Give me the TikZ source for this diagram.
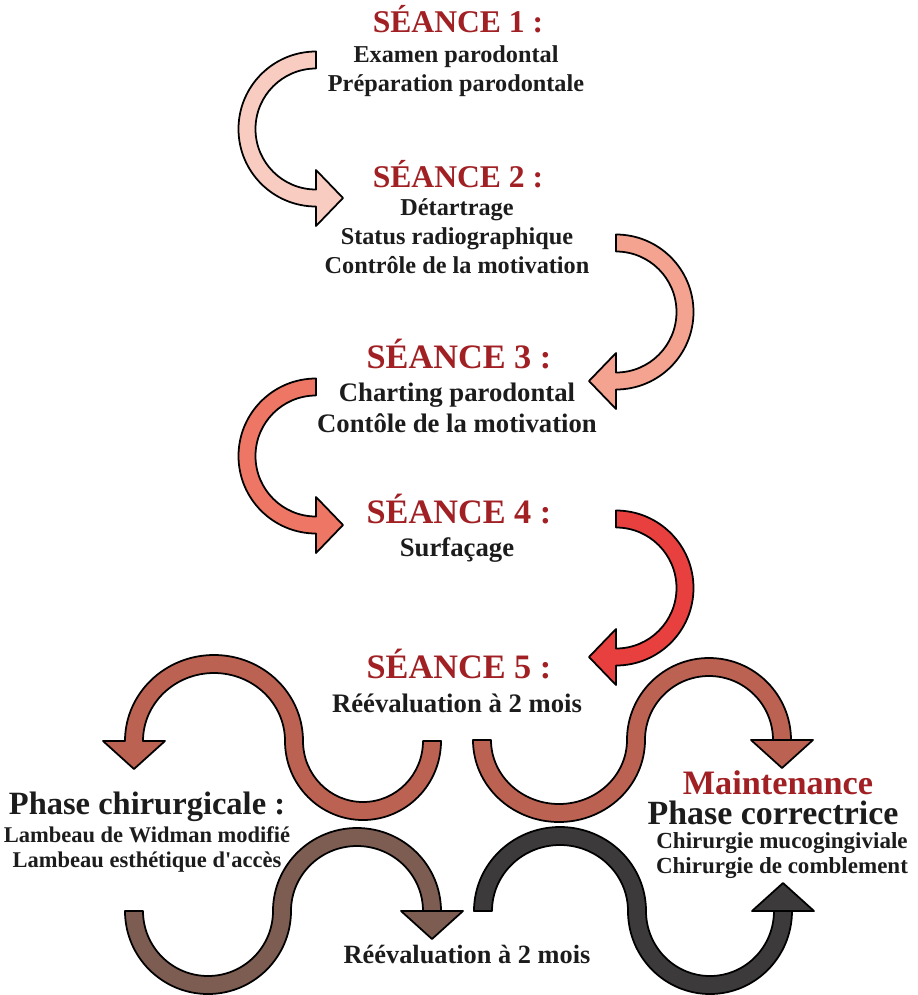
\documentclass[tikz,border=0pt]{standalone}
\usepackage{fontspec}
\setmainfont{Liberation Serif}
\usetikzlibrary{positioning}
\definecolor{seancered}{HTML}{A02024}
\definecolor{inkblack}{HTML}{1C1C1C}
\definecolor{arrowone}{HTML}{F9CCC1}
\definecolor{arrowtwo}{HTML}{F3A38F}
\definecolor{arrowthree}{HTML}{EE7664}
\definecolor{arrowfour}{HTML}{E8403E}
\definecolor{sbrown}{HTML}{BC6252}
\definecolor{sgreybrown}{HTML}{7D5C52}
\definecolor{sdark}{HTML}{3C3A3A}

\begin{document}
\begin{tikzpicture}[x=0.02cm, y=-0.02cm,
    title/.style={font=\bfseries\fontsize{18}{21}\selectfont, text=seancered, anchor=base, inner sep=0pt},
    bigtitle/.style={title, font=\bfseries\fontsize{19.5}{22}\selectfont},
    body/.style={font=\bfseries\fontsize{13.8}{16.4}\selectfont, text=inkblack, align=center, anchor=base, inner sep=0pt},
    bigbody/.style={body, font=\bfseries\fontsize{15.2}{17.6}\selectfont},
    smallbody/.style={body, font=\bfseries\fontsize{12.8}{14.2}\selectfont},
    bandarrow/.style={draw=black, line width=1pt, line join=round}]
    \useasboundingbox (0,0) rectangle (918,995);

    % seances (base = last line)
    \node [title] (t1) at (458,32) {SÉANCE 1 :};
    \node [body] (b1) at (456,91) {Examen parodontal\\Préparation parodontale};
    \node [title] (t2) at (458,187) {SÉANCE 2 :};
    \node [body] (b2) at (457,273) {Détartrage\\Status radiographique\\Contrôle de la motivation};
    \node [bigtitle] (t3) at (459,368) {SÉANCE 3 :};
    \node [bigbody] (b3) at (457,432) {Charting parodontal\\Contôle de la motivation};
    \node [bigtitle] (t4) at (459,523) {SÉANCE 4 :};
    \node [bigbody] (b4) at (457,556) {Surfaçage};
    \node [bigtitle] (t5) at (459,678) {SÉANCE 5 :};
    \node [bigbody] (b5) at (457,712) {Réévaluation à 2 mois};

    % phases
    \node [body, font=\bfseries\fontsize{18.5}{21}\selectfont] (chir) at (147,814) {Phase chirurgicale :};
    \node [smallbody] (chirb) at (147,867) {Lambeau de Widman modifié\\Lambeau esthétique d\textquotesingle accès};
    \node [bigtitle] (maint) at (778,794) {Maintenance};
    \node [body, font=\bfseries\fontsize{19.3}{22}\selectfont] (corr) at (773,824) {Phase correctrice};
    \node [smallbody, font=\bfseries\fontsize{13.1}{14.2}\selectfont] (corrb) at (782,873) {Chirurgie mucogingiviale\\Chirurgie de comblement};
    \node [body, font=\bfseries\fontsize{15}{17}\selectfont] (reeval) at (467,963) {Réévaluation à 2 mois};

    % curved arrows between seances
    \coordinate (a1) at (316,129);
    \coordinate (a2) at (616,312);
    \coordinate (a3) at (316,456);
    \coordinate (a4) at (616,588);
    \draw[bandarrow, fill=arrowone] (a1) ++(0,-77.5) arc[start angle=270, end angle=90, radius=77.5] -- ++(0,19.5) -- ++(27,-28) -- ++(-27,-28) -- ++(0,19.5) arc[start angle=90, end angle=270, radius=60.5] -- cycle;
    \draw[bandarrow, fill=arrowtwo] (a2) ++(0,-77.5) arc[start angle=-90, end angle=90, radius=77.5] -- ++(0,19.5) -- ++(-27,-28) -- ++(27,-28) -- ++(0,19.5) arc[start angle=90, end angle=-90, radius=60.5] -- cycle;
    \draw[bandarrow, fill=arrowthree] (a3) ++(0,-77.5) arc[start angle=270, end angle=90, radius=77.5] -- ++(0,19.5) -- ++(27,-28) -- ++(-27,-28) -- ++(0,19.5) arc[start angle=90, end angle=270, radius=60.5] -- cycle;
    \draw[bandarrow, fill=arrowfour] (a4) ++(0,-77.5) arc[start angle=-90, end angle=90, radius=77.5] -- ++(0,19.5) -- ++(-27,-28) -- ++(27,-28) -- ++(0,19.5) arc[start angle=90, end angle=-90, radius=60.5] -- cycle;

    % s-shaped arrows after seance 5
    \coordinate (s1) at (441,741);
    \coordinate (s2) at (473,740);
    \coordinate (s3) at (125,911);
    \coordinate (s4) at (474,911);
    \draw[bandarrow, fill=sbrown] (s1) arc[start angle=0, end angle=180, x radius=78, y radius=79] arc[start angle=0, end angle=-180, x radius=71, y radius=68] -- ++(22,0) -- ++(-31,28) -- ++(-31,-28) -- ++(22,0) arc[start angle=180, end angle=360, x radius=89, y radius=86] arc[start angle=180, end angle=0, x radius=60, y radius=61] -- cycle;
    \draw[bandarrow, fill=sbrown] (s2) arc[start angle=180, end angle=0, x radius=86, y radius=82] arc[start angle=180, end angle=360, x radius=64, y radius=64] -- ++(40,0) -- ++(-31,28) -- ++(-31,-28) -- ++(40,0) arc[start angle=0, end angle=-180, x radius=82, y radius=82] arc[start angle=0, end angle=180, x radius=68, y radius=64] -- cycle;
    \draw[bandarrow, fill=sgreybrown] (s3) arc[start angle=180, end angle=0, x radius=83, y radius=83] arc[start angle=180, end angle=360, x radius=66, y radius=65] -- ++(40,0) -- ++(-31,28) -- ++(-31,-28) -- ++(40,0) arc[start angle=0, end angle=-180, x radius=84, y radius=83] arc[start angle=0, end angle=180, x radius=65, y radius=65] -- cycle;
    \draw[bandarrow, fill=sdark] (s4) arc[start angle=180, end angle=360, x radius=86, y radius=84] arc[start angle=180, end angle=0, x radius=64, y radius=65] -- ++(40,0) -- ++(-31,-28) -- ++(-31,28) -- ++(40,0) arc[start angle=0, end angle=180, x radius=82, y radius=83] arc[start angle=0, end angle=-180, x radius=68, y radius=66] -- cycle;
\end{tikzpicture}
\end{document}
